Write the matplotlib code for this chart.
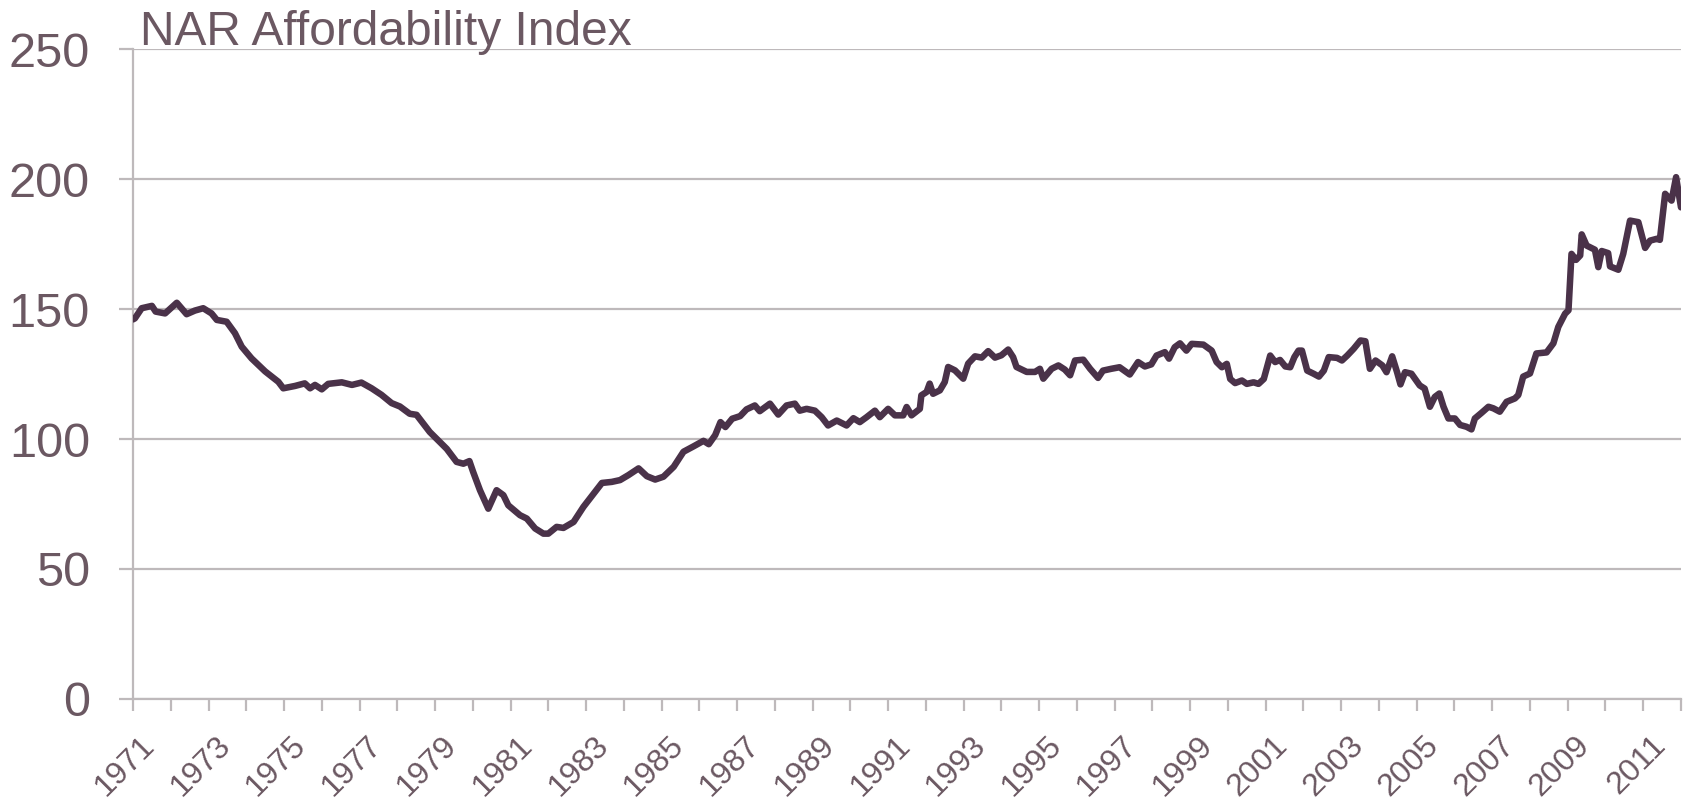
import numpy as np
import matplotlib.pyplot as plt
from matplotlib.ticker import MultipleLocator
from matplotlib.transforms import ScaledTranslation

# values (fractional year, index)
dates = [1971.0, 1971.05, 1971.23, 1971.5, 1971.6, 1971.85, 1972.16, 1972.42, 1972.64, 1972.86,
         1973.08, 1973.22, 1973.48, 1973.7, 1973.88, 1974.14, 1974.5, 1974.85, 1974.98, 1975.29,
         1975.55, 1975.69, 1975.82, 1976.0, 1976.17, 1976.53, 1976.8, 1977.05, 1977.32, 1977.58,
         1977.85, 1978.07, 1978.33, 1978.51,
         1978.86, 1979.13, 1979.31, 1979.57, 1979.75, 1979.91, 1980.01, 1980.19, 1980.41, 1980.63,
         1980.81, 1980.94, 1981.25, 1981.43, 1981.65, 1981.87, 1982.0, 1982.22, 1982.4, 1982.67,
         1982.93, 1983.2, 1983.42, 1983.68, 1983.9, 1984.12, 1984.39, 1984.61, 1984.83, 1985.05,
         1985.32, 1985.58, 1985.85, 1986.11, 1986.25, 1986.42, 1986.56, 1986.69, 1986.87,
         1987.08, 1987.25, 1987.47, 1987.6, 1987.87, 1988.09, 1988.31, 1988.53, 1988.66, 1988.84,
         1989.06, 1989.24, 1989.41, 1989.64, 1989.9, 1990.08, 1990.25, 1990.43, 1990.65, 1990.78,
         1991.0, 1991.18, 1991.4, 1991.49, 1991.62, 1991.84, 1991.88, 1992.02, 1992.1, 1992.19,
         1992.37, 1992.5, 1992.59, 1992.77, 1992.99, 1993.12, 1993.3, 1993.48, 1993.65, 1993.83,
         1994.0, 1994.18, 1994.31, 1994.4, 1994.67, 1994.89, 1995.02, 1995.11, 1995.33, 1995.51,
         1995.68, 1995.82, 1995.95, 1996.17, 1996.35,
         1996.56, 1996.69, 1996.91, 1997.13, 1997.4, 1997.62, 1997.8, 1997.97, 1998.11, 1998.33,
         1998.44, 1998.59, 1998.73, 1998.9, 1999.04, 1999.35, 1999.57, 1999.7, 1999.84, 1999.97,
         2000.06, 2000.19, 2000.37, 2000.5, 2000.68, 2000.81, 2000.95, 2001.12, 2001.25, 2001.38,
         2001.52, 2001.65, 2001.76, 2001.87, 2001.96, 2002.1, 2002.27, 2002.41, 2002.54, 2002.67,
         2002.89, 2003.02, 2003.16, 2003.33, 2003.51, 2003.64, 2003.76, 2003.91, 2004.09, 2004.2,
         2004.35, 2004.48, 2004.57,
         2004.69, 2004.86, 2005.08, 2005.21, 2005.35, 2005.48, 2005.6, 2005.71, 2005.84, 2006.01,
         2006.15, 2006.32, 2006.45, 2006.54, 2006.72, 2006.9, 2007.03, 2007.2, 2007.38, 2007.6,
         2007.69, 2007.82, 2008.0, 2008.17, 2008.44, 2008.62, 2008.75, 2008.93, 2009.02, 2009.1,
         2009.22, 2009.33, 2009.37, 2009.5, 2009.72, 2009.81, 2009.9, 2010.07, 2010.12, 2010.34,
         2010.47, 2010.65, 2010.87, 2011.05, 2011.18, 2011.36, 2011.44, 2011.58, 2011.75, 2011.87,
         2012.0]
index = [146.0, 146.4, 150.3, 151.2, 149.0, 148.3, 152.4, 148.0, 149.4, 150.3,
         148.3, 145.8, 145.1, 140.7, 135.5, 131.0, 126.0, 122.0, 119.5, 120.4,
         121.4, 119.5, 120.8, 119.1, 121.2, 121.8, 120.8, 121.7, 119.5, 117.0,
         113.8, 112.5, 109.7, 109.3,
         102.7, 98.8, 96.2, 91.2, 90.5, 91.5, 87.3, 80.3, 73.2, 80.3,
         78.4, 74.5, 70.7, 69.4, 65.6, 63.6, 63.6, 66.2, 65.8, 68.1,
         73.9, 79.0, 83.1, 83.5, 84.2, 86.1, 88.7, 85.7, 84.4, 85.5,
         89.3, 95.1, 97.2, 99.3, 98.0, 101.5, 106.5, 104.6, 107.8,
         108.8, 111.4, 112.9, 110.7, 113.6, 109.4, 112.9, 113.6, 110.9, 111.6,
         110.9, 108.4, 105.2, 107.1, 105.2, 108.0, 106.5, 108.4, 110.9, 108.4,
         111.6, 109.1, 109.1, 112.3, 109.1, 111.6, 116.8, 118.1, 121.3, 117.4,
         118.7, 121.9, 127.7, 126.4, 123.2, 129.0, 131.8, 131.3, 133.8, 131.3,
         132.2, 134.4, 131.5, 127.7, 125.8, 125.8, 127.0, 123.2, 127.0, 128.3,
         126.7, 124.5, 130.2, 130.5, 127.0,
         123.5, 126.3, 127.0, 127.6, 124.8, 129.6, 127.9, 128.7, 132.1, 133.4,
         130.9, 135.3, 136.8, 134.0, 136.6, 136.3, 134.0, 129.6, 127.6, 128.9,
         123.1, 121.5, 122.5, 121.2, 121.8, 121.2, 123.1, 132.1, 129.6, 130.4,
         127.9, 127.6, 131.5, 134.0, 134.0, 126.3, 125.1, 124.0, 126.3, 131.5,
         131.2, 130.2, 132.1, 134.7, 137.9, 137.6, 127.0, 130.2, 128.3, 125.7,
         131.8, 125.7, 121.0,
         125.7, 125.1, 120.6, 119.4, 112.4, 116.2, 117.5, 112.4, 107.9, 107.9,
         105.4, 104.7, 103.7, 107.9, 110.1, 112.4, 111.8, 110.5, 114.3, 115.6,
         116.9, 124.0, 125.2, 132.9, 133.3, 136.8, 143.1, 148.2, 149.5, 171.2,
         168.9, 170.6, 178.7, 174.4, 172.8, 166.1, 172.3, 171.5, 166.4, 165.1,
         171.2, 184.0, 183.4, 173.5, 176.3, 177.0, 176.6, 194.3, 191.7, 200.7,
         189.1]

title = "NAR Affordability Index"
year_labels = list(range(1971, 2012, 2))

text_col = '#6B5862'
grid_col = '#BEB9BB'
line_col = '#4A3249'

plt.rcParams['font.family'] = ['Liberation Sans', 'DejaVu Sans']

fig = plt.figure(figsize=(16.87, 8.05), dpi=100)
ax = fig.add_axes([133/1687, 1 - 699/805, (1681-133)/1687, (699-49)/805])

ax.plot(dates, index, color=line_col, lw=4.7, solid_joinstyle='round', solid_capstyle='round', zorder=3)

ax.set_xlim(1971, 2012)
ax.set_ylim(0, 250)
ax.yaxis.set_major_locator(MultipleLocator(50))
ax.set_xticks(year_labels)
ax.set_xticklabels([str(y) for y in year_labels])
ax.xaxis.set_minor_locator(MultipleLocator(1))

ax.grid(axis='y', color=grid_col, lw=1.6, zorder=0)
for s in ['top', 'right']:
    ax.spines[s].set_visible(False)
for s in ['left', 'bottom']:
    ax.spines[s].set_color(grid_col)
    ax.spines[s].set_linewidth(1.6)
ax.set_axisbelow(True)

ax.tick_params(axis='y', which='major', length=10, width=1.6, color=grid_col,
               labelsize=35, labelcolor=text_col, pad=21)
ax.tick_params(axis='x', which='both', length=8.5, width=1.6, color=grid_col,
               labelsize=23, labelcolor=text_col, pad=14)
shift = ScaledTranslation(7/100, 0, fig.dpi_scale_trans)
for lab in ax.get_xticklabels():
    lab.set_rotation(45)
    lab.set_ha('right')
    lab.set_va('top')
    lab.set_rotation_mode('anchor')
    lab.set_transform(lab.get_transform() + shift)

fig.text(140/1687, 1 - 45/805, title, fontsize=34.5, color=text_col, ha='left', va='baseline')

fig.savefig('out.png', dpi=100)
